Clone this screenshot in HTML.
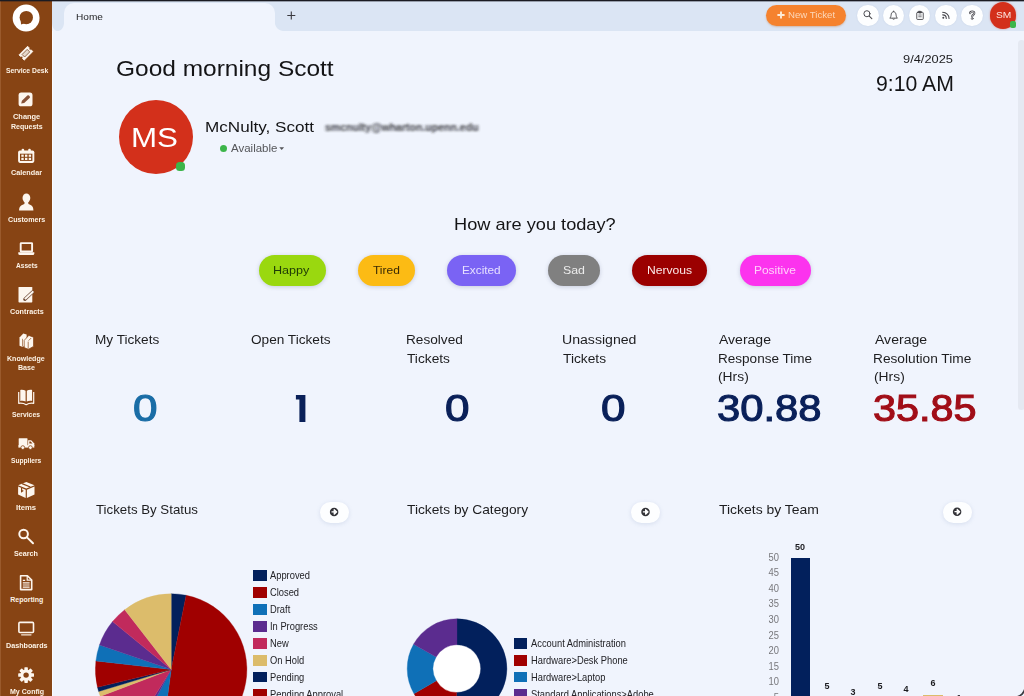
<!DOCTYPE html>
<html><head><meta charset="utf-8"><title>Home</title>
<style>
html,body{margin:0;padding:0;}
body{width:1024px;height:696px;overflow:hidden;position:relative;background:#f0f4fd;font-family:"Liberation Sans",sans-serif;}
.abs{position:absolute;}
#topline{left:0;top:0;width:1024px;height:1px;background:#1b1b22;z-index:50;box-shadow:0 1px 0 rgba(27,27,34,.35);}
#sidebar{left:0;top:0;width:52.3px;height:696px;background:#874414;}
#tabbar{left:52px;top:0;width:972px;height:31px;background:#dbe5f4;}
#tab{left:64.2px;top:2.6px;width:210.6px;height:28.4px;background:#f0f4fd;border-radius:10px 10px 0 0;}
.inv{width:10px;height:10px;top:21px;}
.pill{position:absolute;height:31px;top:254.5px;border-radius:16px;box-shadow:0 1px 4px rgba(60,70,110,.22);}
.cbtn{position:absolute;width:21.6px;height:21.6px;border-radius:50%;background:#fdfeff;top:4.6px;box-shadow:0 0 1.5px rgba(150,170,200,.3);}
.more{position:absolute;width:29.6px;height:21px;border-radius:10.5px;background:#fdfeff;top:502.3px;box-shadow:0 1px 4px rgba(120,140,180,.22);}
.lg{position:absolute;font-size:10.1px;color:#232327;white-space:pre;line-height:12px;transform:scaleX(0.925);transform-origin:0 50%;}
.sq{position:absolute;width:13.3px;height:10.5px;}
.ax{position:absolute;font-size:10.3px;color:#77777b;width:20px;text-align:right;line-height:12px;transform:scaleX(0.91);transform-origin:100% 50%;}
.bl{position:absolute;font-size:9.3px;font-weight:700;color:#1c1c20;width:20px;text-align:center;line-height:12px;transform:scaleX(0.97);transform-origin:50% 50%;}

.t{position:absolute;white-space:pre;line-height:1;font-family:"Liberation Sans",sans-serif;transform-origin:0 50%;}
</style></head>
<body>
<svg width="0" height="0" style="position:absolute"><filter id="hb" x="-5%" y="-50%" width="110%" height="200%"><feGaussianBlur stdDeviation="1.7 0.95"/></filter></svg>
<div id="sidebar" class="abs"></div>
<div id="tabbar" class="abs"></div>
<div id="tab" class="abs"></div>
<!-- inverse tab corners -->
<svg class="abs" style="left:52px;top:0" width="260" height="31" viewBox="52 0 260 31">
  <path d="M52 31.2 L52 23 C52.4 28.5 55 31 58 31.2 Z" fill="#f0f4fd"/>
  <path d="M57 31.2 C61.5 31 64.2 27.5 64.2 21 L64.4 31.2 Z" fill="#f0f4fd"/>
  <path d="M274.6 20 C274.6 27 278 31 285 31.2 L274.6 31.2 Z" fill="#f0f4fd"/>
  <path d="M287.3 15.5 H295.3 M291.3 11.5 V19.5" stroke="#3a3a40" stroke-width="1.1" fill="none"/>
</svg>
<div class="abs" style="left:52.2px;top:31px;width:0.8px;height:665px;background:#fbfcff;"></div>
<div id="topline" class="abs"></div>

<!-- SIDEBAR ICONS -->
<svg class="abs" style="left:0;top:0" width="52" height="696" viewBox="0 0 52 696">
 <rect x="0" y="0" width="1" height="696" fill="#9a5a2c"/>
 <g fill="#fdf6ee" stroke="none">
  <!-- logo -->
  <circle cx="26.1" cy="18" r="13.45" fill="#ffffff"/>
  <circle cx="26.3" cy="17.6" r="6.7" fill="#874414"/>
  <path d="M20.6 20.6 L21.1 24.6 L24.6 23.2 Z" fill="#874414"/>
  <!-- service desk ticket -->
  <g transform="translate(25.9 53.2) rotate(-45)">
    <path d="M-6.1 -3.7 H6.1 V-1.3 A1.3 1.3 0 0 0 6.1 1.3 V3.7 H-6.1 V1.3 A1.3 1.3 0 0 0 -6.1 -1.3 Z" stroke="#fdf6ee" stroke-width="0.8" stroke-linejoin="round"/>
    <rect x="-3.6" y="-1.8" width="7.2" height="3.6" fill="#e6d9cc" stroke="#7a4a2a" stroke-width="0.75"/>
  </g>
  <!-- change requests -->
  <rect x="18.6" y="92.6" width="13.9" height="13.7" rx="2.6"/>
  <path d="M21.2 103.6 L21.9 100.7 L27.3 95.6 A1.2 1.2 0 0 1 29 95.6 L29.6 96.2 A1.2 1.2 0 0 1 29.6 97.9 L24.2 103 Z" fill="#875237"/>
  <!-- calendar -->
  <rect x="18.1" y="150.4" width="16.2" height="12.5" rx="1.8"/>
  <rect x="21.6" y="148.8" width="2.6" height="3" rx="1.2"/><rect x="28.2" y="148.8" width="2.6" height="3" rx="1.2"/>
  <rect x="20" y="153.7" width="12.4" height="7.2" fill="#874414"/>
  <g>
   <rect x="21.3" y="154.6" width="2.4" height="2.2"/><rect x="25" y="154.6" width="2.4" height="2.2"/><rect x="28.7" y="154.6" width="2.4" height="2.2"/>
   <rect x="21.3" y="157.8" width="2.4" height="2.2"/><rect x="25" y="157.8" width="2.4" height="2.2"/><rect x="28.7" y="157.8" width="2.4" height="2.2"/>
  </g>
  <!-- customers -->
  <ellipse cx="26.4" cy="198.1" rx="3.9" ry="4.6"/>
  <path d="M19.1 210.4 C19 206.6 21 205 24.4 203.9 L24.6 201.5 L28.2 201.5 L28.4 203.9 C31.8 205 33.5 206.6 33.4 210.4 Z"/>
  <!-- assets laptop -->
  <rect x="20.7" y="243.1" width="11.4" height="8.4" rx="0.5" fill="none" stroke="#fdf6ee" stroke-width="1.9"/>
  <path d="M18.3 252.3 H34.3 V253.4 A1.5 1.5 0 0 1 32.8 254.9 H19.8 A1.5 1.5 0 0 1 18.3 253.4 Z"/>
  <!-- contracts -->
  <rect x="18.5" y="286.9" width="13.8" height="15.5" rx="0.7"/>
  <path d="M24.9 299.2 L32.6 292" stroke="#6f4a36" stroke-width="3.3" stroke-linecap="round" fill="none"/>
  <path d="M25 299.1 L32.7 291.9" stroke="#fdf6ee" stroke-width="2" stroke-linecap="round" fill="none"/>
  <path d="M23.6 300.6 L24 298.3 L25.9 300 Z" fill="#6f4a36"/>
  <!-- knowledge base books -->
  <path d="M19.5 337.6 L23.3 333.4 L26.6 334.6 L26.6 344.6 L22.7 347 L19.5 345.8 Z"/>
  <path d="M24.2 340.4 L28.8 335.4 L33.5 337.2 L33.5 346.4 L28.4 349.3 L24.2 347.6 Z" stroke="#874414" stroke-width="0.7"/>
  <path d="M22.5 338.8 V346.6" stroke="#874414" stroke-width="0.6" fill="none"/>
  <path d="M28.2 341.6 V348.8 M28.6 340.6 L31.2 338" stroke="#874414" stroke-width="0.7" fill="none"/>
  <!-- services open book -->
  <path d="M20.3 389.9 C22.3 389.6 24.3 389.9 25.6 390.8 L25.6 401.6 C24.3 400.9 22.3 400.7 20.3 401 Z"/>
  <path d="M32.1 389.9 C30.1 389.6 28.1 389.9 26.8 390.8 L26.8 401.6 C28.1 400.9 30.1 400.7 32.1 401 Z"/>
  <path d="M18.7 392 V403.3 C21.5 403 24 403.3 26.2 404.7 C28.4 403.3 30.9 403 33.7 403.3 V392" fill="none" stroke="#fdf6ee" stroke-width="1.2" stroke-linejoin="round"/>
  <!-- suppliers truck -->
  <rect x="18.7" y="438.2" width="8.8" height="8.2" rx="0.6"/>
  <path d="M18.4 445.2 H34.3 V447.6 H18.4 Z"/>
  <path d="M28.1 440.3 H31.2 L34.3 443.6 V446 H28.1 Z"/>
  <path d="M29.3 441.5 H30.7 L32.5 443.5 H29.3 Z" fill="#874414"/>
  <circle cx="22.8" cy="447.6" r="1.9" stroke="#874414" stroke-width="0.8"/>
  <circle cx="30.4" cy="447.6" r="1.9" stroke="#874414" stroke-width="0.8"/>
  <!-- items box -->
  <path d="M26.3 481.9 L34.5 485.2 L26.3 488.6 L18.1 485.2 Z"/>
  <path d="M18.1 486.5 L25.7 489.7 L25.7 497.9 L18.1 494.6 Z"/>
  <path d="M26.9 489.7 L34.5 486.5 L34.5 494.6 L26.9 497.9 Z"/>
  <path d="M22.1 483.6 L30.3 487 M21.6 488 L21.6 491.6 L23.3 490.4" stroke="#874414" stroke-width="1.2" fill="none"/>
  <!-- search -->
  <circle cx="23.6" cy="534" r="4.3" fill="none" stroke="#fdf6ee" stroke-width="2"/>
  <path d="M27 537.4 L33 543.2" stroke="#fdf6ee" stroke-width="2" stroke-linecap="round"/>
  <!-- reporting -->
  <g fill="none" stroke="#fdf6ee">
   <path d="M20.6 575.7 H27.4 L31.7 580 V589.6 H20.6 Z" stroke-width="1.6" stroke-linejoin="round"/>
   <path d="M27.2 575.9 V580.2 H31.5" stroke-width="1.2"/>
   <path d="M22.8 580.4 H25.2 M22.8 582.8 H29.6 M22.8 585 H29.6 M22.8 587.2 H29.6" stroke-width="1.2"/>
  </g>
  <!-- dashboards -->
  <rect x="18.9" y="622.4" width="14.6" height="10.1" rx="1" fill="none" stroke="#fdf6ee" stroke-width="1.6"/>
  <path d="M21.6 634.8 H31" stroke="#f3e3d3" stroke-width="1.3" stroke-linecap="round"/>
  <!-- gear -->
  <g transform="translate(26.1 675.1)">
   <circle r="5.7"/>
   <g>
    <rect x="-1.75" y="-7.9" width="3.5" height="15.8" rx="0.7"/>
    <rect x="-1.75" y="-7.9" width="3.5" height="15.8" rx="0.7" transform="rotate(45)"/>
    <rect x="-1.75" y="-7.9" width="3.5" height="15.8" rx="0.7" transform="rotate(90)"/>
    <rect x="-1.75" y="-7.9" width="3.5" height="15.8" rx="0.7" transform="rotate(135)"/>
   </g>
   <circle r="2.7" fill="#874414"/>
  </g>
 </g>
</svg>

<!-- TOP BAR BUTTONS -->
<div class="abs" style="left:765.7px;top:4.6px;width:80.6px;height:21.2px;border-radius:10.6px;background:#f5822e;box-shadow:0 1px 2px rgba(190,100,30,.35);"></div>
<svg class="abs" style="left:776px;top:10px" width="10" height="10" viewBox="0 0 10 10"><path d="M1.4 5 H8.6 M5 1.4 V8.6" stroke="#fdebd8" stroke-width="1.9" fill="none"/></svg>
<div class="cbtn" style="left:857px"></div>
<div class="cbtn" style="left:882.8px"></div>
<div class="cbtn" style="left:908.9px"></div>
<div class="cbtn" style="left:935.2px"></div>
<div class="cbtn" style="left:961.2px"></div>
<svg class="abs" style="left:856px;top:3px" width="128" height="25" viewBox="856 3 128 25" fill="none" stroke="#47474d" stroke-linecap="round" stroke-linejoin="round">
  <!-- search -->
  <g transform="translate(867.6 15.2) scale(0.92) translate(-867.6 -15.2)">
  <circle cx="866.9" cy="13.6" r="3.3" stroke-width="1.05"/>
  <path d="M869.4 16.1 L872.2 18.9" stroke-width="1.15"/>
  </g>
  <!-- bell -->
  <g transform="translate(893.6 15.2) scale(0.9) translate(-893.6 -15.2)">
  <path d="M889.7 18.2 C890.8 17.3 890.7 15.6 891 14 C891.3 12.3 892.3 11.4 893.6 11.4 C894.9 11.4 895.9 12.3 896.2 14 C896.5 15.6 896.4 17.3 897.5 18.2 Z" stroke-width="1"/>
  <path d="M892.7 19.5 C893.1 20 894.1 20 894.5 19.5" stroke-width="0.9"/>
  <path d="M893.6 11.2 V10.6" stroke-width="1"/>
  </g>
  <!-- clipboard -->
  <g transform="translate(920 15.4) scale(0.9) translate(-920 -15.4)">
  <rect x="916.4" y="12" width="7.2" height="7.9" rx="0.8" stroke-width="1"/>
  <rect x="918.4" y="10.9" width="3.2" height="1.9" rx="0.4" stroke-width="0.8" fill="#47474d"/>
  <path d="M918.6 15 H921.4 M918.6 16.9 H921.4" stroke-width="0.8"/>
  </g>
  <!-- rss -->
  <g transform="translate(946 15.4) scale(0.9) translate(-946 -15.4)">
  <circle cx="943" cy="18" r="1.1" fill="#47474d" stroke="none"/>
  <path d="M942.3 14.8 C944.6 14.8 946.3 16.5 946.3 18.8" stroke-width="1.15"/>
  <path d="M942.3 11.9 C946.3 11.9 949.4 15 949.4 18.8" stroke-width="1.15"/>
  </g>
  <!-- help -->
  <g transform="translate(972.2 15.4) scale(0.9) translate(-972.2 -15.4)">
  <path d="M969.9 13.1 C969.9 10.5 974.5 10.5 974.5 13.1 C974.5 14.9 972.2 14.8 972.2 16.5" stroke-width="2.3"/>
  <path d="M969.9 13.1 C969.9 10.5 974.5 10.5 974.5 13.1 C974.5 14.9 972.2 14.8 972.2 16.5" stroke="#fdfeff" stroke-width="0.8"/>
  <circle cx="972.2" cy="18.9" r="1.05" stroke-width="0.8"/>
</g>
  </svg>
<div class="abs" style="left:990.1px;top:2.3px;width:26.4px;height:26.4px;border-radius:50%;background:#d3301b;box-shadow:0 0 2px rgba(211,48,27,.5);"></div>
<div class="abs" style="left:1009.6px;top:21.4px;width:6.2px;height:6.2px;border-radius:2px;background:#3cb54a;"></div>

<div class="abs" style="left:1017.8px;top:40px;width:7px;height:370px;border-radius:3.5px;background:#e5e9f2;"></div>
<!-- PROFILE -->
<div class="abs" style="left:118.5px;top:99.8px;width:74.6px;height:74.6px;border-radius:50%;background:#d3301b;"></div>
<div class="abs" style="left:175.8px;top:161.8px;width:9.4px;height:9.4px;border-radius:38%;background:#3cb54a;"></div>
<div class="abs" style="left:219.6px;top:144.9px;width:7.6px;height:7.6px;border-radius:50%;background:#3cb54a;"></div>
<svg class="abs" style="left:278.6px;top:147px" width="6" height="4" viewBox="0 0 6 4"><path d="M0.3 0.3 H5.1 L2.7 3.1 Z" fill="#55565a"/></svg>

<!-- MOOD PILLS -->
<div class="pill" style="left:258.6px;width:67px;background:#9ad80f"></div>
<div class="pill" style="left:357.6px;width:57.2px;background:#fcbb14"></div>
<div class="pill" style="left:447.4px;width:68.2px;background:#7a63f4"></div>
<div class="pill" style="left:548.3px;width:51.8px;background:#808080"></div>
<div class="pill" style="left:632.1px;width:75.1px;background:#9b0000"></div>
<div class="pill" style="left:739.5px;width:71.7px;background:#fc33ee"></div>

<!-- CHART "more" BUTTONS -->
<div class="more" style="left:319.6px"></div>
<div class="more" style="left:630.9px"></div>
<div class="more" style="left:942.5px"></div>
<svg class="abs" style="left:0;top:500px" width="1024" height="26" viewBox="0 500 1024 26">
 <g id="arr">
  <circle cx="334.1" cy="511.9" r="4.25" fill="#333338"/>
  <path d="M331.5 511.9 H334.6 M334.2 509.6 L336.7 511.9 L334.2 514.2 Z" stroke="#fff" stroke-width="1.2" fill="#fff" stroke-linejoin="round"/>
 </g>
 <g transform="translate(311.4 0)">
  <circle cx="334.1" cy="511.9" r="4.25" fill="#333338"/>
  <path d="M331.5 511.9 H334.6 M334.2 509.6 L336.7 511.9 L334.2 514.2 Z" stroke="#fff" stroke-width="1.2" fill="#fff" stroke-linejoin="round"/>
 </g>
 <g transform="translate(623 -0.2)">
  <circle cx="334.1" cy="511.9" r="4.25" fill="#333338"/>
  <path d="M331.5 511.9 H334.6 M334.2 509.6 L336.7 511.9 L334.2 514.2 Z" stroke="#fff" stroke-width="1.2" fill="#fff" stroke-linejoin="round"/>
 </g>
</svg>
<svg class="abs" style="left:290px;top:390px" width="24" height="38" viewBox="290 390 24 38"><path d="M295.9 395 H305.4 V422 H299.4 V399.4 H295.9 Z" fill="#0a2059"/></svg>
<svg class="abs" style="left:80px;top:580px" width="200" height="116" viewBox="80 580 200 116">
<path d="M171.20 669.60 L171.20 593.80 A75.8 75.8 0 0 1 186.18 595.30 Z" fill="#02205c" stroke="#02205c" stroke-width="0.35"/>
<path d="M171.20 669.60 L186.18 595.30 A75.8 75.8 0 0 1 161.17 744.73 Z" fill="#a00000" stroke="#a00000" stroke-width="0.35"/>
<path d="M171.20 669.60 L161.17 744.73 A75.8 75.8 0 0 1 135.61 736.53 Z" fill="#0f70b7" stroke="#0f70b7" stroke-width="0.35"/>
<path d="M171.20 669.60 L135.61 736.53 A75.8 75.8 0 0 1 131.03 733.88 Z" fill="#5b2c8f" stroke="#5b2c8f" stroke-width="0.35"/>
<path d="M171.20 669.60 L131.03 733.88 A75.8 75.8 0 0 1 100.29 696.39 Z" fill="#c12a5c" stroke="#c12a5c" stroke-width="0.35"/>
<path d="M171.20 669.60 L100.29 696.39 A75.8 75.8 0 0 1 98.64 691.51 Z" fill="#dcbc6b" stroke="#dcbc6b" stroke-width="0.35"/>
<path d="M171.20 669.60 L98.64 691.51 A75.8 75.8 0 0 1 97.49 687.30 Z" fill="#02205c" stroke="#02205c" stroke-width="0.35"/>
<path d="M171.20 669.60 L97.49 687.30 A75.8 75.8 0 0 1 95.90 660.89 Z" fill="#a00000" stroke="#a00000" stroke-width="0.35"/>
<path d="M171.20 669.60 L95.90 660.89 A75.8 75.8 0 0 1 99.53 644.92 Z" fill="#0f70b7" stroke="#0f70b7" stroke-width="0.35"/>
<path d="M171.20 669.60 L99.53 644.92 A75.8 75.8 0 0 1 112.54 621.59 Z" fill="#5b2c8f" stroke="#5b2c8f" stroke-width="0.35"/>
<path d="M171.20 669.60 L112.54 621.59 A75.8 75.8 0 0 1 124.74 609.71 Z" fill="#c12a5c" stroke="#c12a5c" stroke-width="0.35"/>
<path d="M171.20 669.60 L124.74 609.71 A75.8 75.8 0 0 1 171.20 593.80 Z" fill="#dcbc6b" stroke="#dcbc6b" stroke-width="0.35"/>
</svg>
<div class="sq" style="left:253.3px;top:570.40px;background:#02205c"></div><div class="lg" style="left:270.2px;top:570px">Approved</div>
<div class="sq" style="left:253.3px;top:587.33px;background:#a00000"></div><div class="lg" style="left:270.2px;top:587px">Closed</div>
<div class="sq" style="left:253.3px;top:604.26px;background:#0f70b7"></div><div class="lg" style="left:270.2px;top:604px">Draft</div>
<div class="sq" style="left:253.3px;top:621.19px;background:#5b2c8f"></div><div class="lg" style="left:270.2px;top:621px">In Progress</div>
<div class="sq" style="left:253.3px;top:638.12px;background:#c12a5c"></div><div class="lg" style="left:270.2px;top:638px">New</div>
<div class="sq" style="left:253.3px;top:655.05px;background:#dcbc6b"></div><div class="lg" style="left:270.2px;top:655px">On Hold</div>
<div class="sq" style="left:253.3px;top:671.98px;background:#02205c"></div><div class="lg" style="left:270.2px;top:672px">Pending</div>
<div class="sq" style="left:253.3px;top:688.91px;background:#a00000"></div><div class="lg" style="left:270.2px;top:689px">Pending Approval</div>
<svg class="abs" style="left:400px;top:610px" width="120" height="86" viewBox="400 610 120 86">
<circle cx="457.0" cy="668.6" r="24.4" fill="#ffffff"/>
<path d="M457.00 618.80 A49.8 49.8 0 1 1 456.13 718.39 L456.58 692.50 A23.9 23.9 0 1 0 457.00 644.70 Z" fill="#02205c" stroke="#02205c" stroke-width="0.35"/>
<path d="M456.13 718.39 A49.8 49.8 0 0 1 414.00 693.73 L436.36 680.66 A23.9 23.9 0 0 0 456.58 692.50 Z" fill="#a00000" stroke="#a00000" stroke-width="0.35"/>
<path d="M414.00 693.73 A49.8 49.8 0 0 1 413.53 644.30 L436.14 656.94 A23.9 23.9 0 0 0 436.36 680.66 Z" fill="#0f70b7" stroke="#0f70b7" stroke-width="0.35"/>
<path d="M413.53 644.30 A49.8 49.8 0 0 1 457.00 618.80 L457.00 644.70 A23.9 23.9 0 0 0 436.14 656.94 Z" fill="#5b2c8f" stroke="#5b2c8f" stroke-width="0.35"/>
</svg>
<div class="sq" style="left:513.9px;top:638.10px;background:#02205c"></div><div class="lg" style="left:530.9px;top:638px">Account Administration</div>
<div class="sq" style="left:513.9px;top:655.03px;background:#a00000"></div><div class="lg" style="left:530.9px;top:655px">Hardware&gt;Desk Phone</div>
<div class="sq" style="left:513.9px;top:671.96px;background:#0f70b7"></div><div class="lg" style="left:530.9px;top:672px">Hardware&gt;Laptop</div>
<div class="sq" style="left:513.9px;top:688.89px;background:#5b2c8f"></div><div class="lg" style="left:530.9px;top:689px">Standard Applications&gt;Adobe</div>
<div class="ax" style="left:759.3px;top:552px">50</div>
<div class="ax" style="left:759.3px;top:567px">45</div>
<div class="ax" style="left:759.3px;top:583px">40</div>
<div class="ax" style="left:759.3px;top:598px">35</div>
<div class="ax" style="left:759.3px;top:614px">30</div>
<div class="ax" style="left:759.3px;top:630px">25</div>
<div class="ax" style="left:759.3px;top:645px">20</div>
<div class="ax" style="left:759.3px;top:661px">15</div>
<div class="ax" style="left:759.3px;top:676px">10</div>
<div class="ax" style="left:759.3px;top:692px">5</div>
<div class="abs" style="left:791px;top:557.9px;width:18.6px;height:140px;background:#02205c"></div>
<div class="abs" style="left:923.1px;top:694.6px;width:19.6px;height:4px;background:#dcbc6b"></div>
<div class="bl" style="left:790.0px;top:541px">50</div>
<div class="bl" style="left:816.6px;top:680px">5</div>
<div class="bl" style="left:842.9px;top:686px">3</div>
<div class="bl" style="left:869.7px;top:680px">5</div>
<div class="bl" style="left:896.0px;top:683px">4</div>
<div class="bl" style="left:922.6px;top:677px">6</div>
<div class="bl" style="left:949.3px;top:692px">1</div>
<svg class="abs" style="left:1004px;top:676px" width="20" height="20" viewBox="1004 676 20 20"><path d="M1016.5 697 C1021 696 1024 692.5 1025 688.5" stroke="#3a3a40" stroke-width="1.6" fill="none"/></svg>

<!-- text -->
<span class="t" style="left:5.56px;top:67.00px;font-size:7.00px;font-weight:700;color:#fdf3e6;transform:scaleX(0.9688);">Service Desk</span>
<span class="t" style="left:12.73px;top:113.00px;font-size:7.00px;font-weight:700;color:#fdf3e6;transform:scaleX(1.0614);">Change</span>
<span class="t" style="left:10.50px;top:123.00px;font-size:7.00px;font-weight:700;color:#fdf3e6;transform:scaleX(1.0016);">Requests</span>
<span class="t" style="left:10.74px;top:169.00px;font-size:7.00px;font-weight:700;color:#fdf3e6;transform:scaleX(1.0353);">Calendar</span>
<span class="t" style="left:7.85px;top:216.00px;font-size:7.00px;font-weight:700;color:#fdf3e6;transform:scaleX(1.0167);">Customers</span>
<span class="t" style="left:15.77px;top:262.00px;font-size:7.00px;font-weight:700;color:#fdf3e6;transform:scaleX(0.9378);">Assets</span>
<span class="t" style="left:9.74px;top:308.00px;font-size:7.00px;font-weight:700;color:#fdf3e6;transform:scaleX(1.0295);">Contracts</span>
<span class="t" style="left:7.40px;top:355.00px;font-size:7.00px;font-weight:700;color:#fdf3e6;transform:scaleX(1.0082);">Knowledge</span>
<span class="t" style="left:17.79px;top:364.00px;font-size:7.00px;font-weight:700;color:#fdf3e6;transform:scaleX(1.0125);">Base</span>
<span class="t" style="left:12.46px;top:411.00px;font-size:7.00px;font-weight:700;color:#fdf3e6;transform:scaleX(0.9699);">Services</span>
<span class="t" style="left:11.46px;top:457.00px;font-size:7.00px;font-weight:700;color:#fdf3e6;transform:scaleX(0.9492);">Suppliers</span>
<span class="t" style="left:16.25px;top:504.00px;font-size:7.00px;font-weight:700;color:#fdf3e6;transform:scaleX(1.1029);">Items</span>
<span class="t" style="left:14.44px;top:550.00px;font-size:7.00px;font-weight:700;color:#fdf3e6;transform:scaleX(1.0286);">Search</span>
<span class="t" style="left:10.20px;top:596.00px;font-size:7.00px;font-weight:700;color:#fdf3e6;transform:scaleX(1.0000);">Reporting</span>
<span class="t" style="left:5.59px;top:642.00px;font-size:7.00px;font-weight:700;color:#fdf3e6;transform:scaleX(1.0264);">Dashboards</span>
<span class="t" style="left:9.50px;top:688.00px;font-size:7.00px;font-weight:700;color:#fdf3e6;transform:scaleX(1.0061);">My Config</span>
<span class="t" style="left:76.07px;top:13.00px;font-size:9.11px;font-weight:400;color:#1d1d1f;transform:scaleX(1.1097);">Home</span>
<span class="t" style="left:787.67px;top:11.00px;font-size:8.66px;font-weight:400;color:#fcd8bb;transform:scaleX(1.1133);">New Ticket</span>
<span class="t" style="left:995.88px;top:10.00px;font-size:9.80px;font-weight:400;color:#fde4df;transform:scaleX(1.0444);">SM</span>
<span class="t" style="left:116.34px;top:58.00px;font-size:21.20px;font-weight:400;color:#141416;transform:scaleX(1.1551);">Good morning Scott</span>
<span class="t" style="left:903.33px;top:54.00px;font-size:11.20px;font-weight:400;color:#1d1d1f;transform:scaleX(1.1459);">9/4/2025</span>
<span class="t" style="left:876.00px;top:74.00px;font-size:21.30px;font-weight:400;color:#141416;transform:scaleX(0.9960);">9:10 AM</span>
<span class="t" style="left:130.99px;top:124.00px;font-size:28.06px;font-weight:400;color:#fff;transform:scaleX(1.1169);">MS</span>
<span class="t" style="left:204.81px;top:119.00px;font-size:15.38px;font-weight:400;color:#141416;transform:scaleX(1.1130);">McNulty, Scott</span>
<span class="t" style="left:325.48px;top:123.00px;font-size:10.22px;font-weight:700;color:#26262c;transform:scaleX(1.0304);filter:url(#hb);opacity:.9;">smcnulty@wharton.upenn.edu</span>
<span class="t" style="left:230.80px;top:144.00px;font-size:10.36px;font-weight:400;color:#55565a;transform:scaleX(1.1084);">Available</span>
<span class="t" style="left:453.81px;top:216.00px;font-size:16.40px;font-weight:400;color:#141416;transform:scaleX(1.1090);">How are you today?</span>
<span class="t" style="left:273.03px;top:265.00px;font-size:10.80px;font-weight:400;color:#1e3a06;transform:scaleX(1.1669);">Happy</span>
<span class="t" style="left:373.12px;top:265.00px;font-size:10.80px;font-weight:400;color:#3a2a05;transform:scaleX(1.1097);">Tired</span>
<span class="t" style="left:462.11px;top:265.00px;font-size:10.80px;font-weight:400;color:#e6e0ff;transform:scaleX(1.0904);">Excited</span>
<span class="t" style="left:563.43px;top:265.00px;font-size:10.80px;font-weight:400;color:#ececec;transform:scaleX(1.1444);">Sad</span>
<span class="t" style="left:646.68px;top:265.00px;font-size:10.80px;font-weight:400;color:#fbe9e9;transform:scaleX(1.1226);">Nervous</span>
<span class="t" style="left:754.29px;top:265.00px;font-size:10.80px;font-weight:400;color:#ffd0fa;transform:scaleX(1.1062);">Positive</span>
<span class="t" style="left:94.69px;top:334.00px;font-size:12.30px;font-weight:400;color:#1d1d1f;transform:scaleX(1.1066);">My Tickets</span>
<span class="t" style="left:251.05px;top:334.00px;font-size:12.30px;font-weight:400;color:#1d1d1f;transform:scaleX(1.1081);">Open Tickets</span>
<span class="t" style="left:406.29px;top:334.00px;font-size:12.30px;font-weight:400;color:#1d1d1f;transform:scaleX(1.1091);">Resolved</span>
<span class="t" style="left:407.12px;top:353.00px;font-size:12.30px;font-weight:400;color:#1d1d1f;transform:scaleX(1.1152);">Tickets</span>
<span class="t" style="left:561.85px;top:334.00px;font-size:12.30px;font-weight:400;color:#1d1d1f;transform:scaleX(1.1462);">Unassigned</span>
<span class="t" style="left:562.72px;top:353.00px;font-size:12.30px;font-weight:400;color:#1d1d1f;transform:scaleX(1.1179);">Tickets</span>
<span class="t" style="left:718.80px;top:334.00px;font-size:12.30px;font-weight:400;color:#1d1d1f;transform:scaleX(1.1400);">Average</span>
<span class="t" style="left:717.70px;top:353.00px;font-size:12.30px;font-weight:400;color:#1d1d1f;transform:scaleX(1.1012);">Response Time</span>
<span class="t" style="left:718.46px;top:371.00px;font-size:12.30px;font-weight:400;color:#1d1d1f;transform:scaleX(1.1262);">(Hrs)</span>
<span class="t" style="left:874.60px;top:334.00px;font-size:12.30px;font-weight:400;color:#1d1d1f;transform:scaleX(1.1422);">Average</span>
<span class="t" style="left:873.49px;top:353.00px;font-size:12.30px;font-weight:400;color:#1d1d1f;transform:scaleX(1.1145);">Resolution Time</span>
<span class="t" style="left:874.26px;top:371.00px;font-size:12.30px;font-weight:400;color:#1d1d1f;transform:scaleX(1.1262);">(Hrs)</span>
<span class="t" style="left:133.40px;top:390.00px;font-size:37.00px;font-weight:400;color:#1a6da6;transform:scaleX(1.1900);-webkit-text-stroke:1.1px #1a6da6;">0</span>
<span class="t" style="left:445.15px;top:390.00px;font-size:37.00px;font-weight:400;color:#0a2059;transform:scaleX(1.1900);-webkit-text-stroke:1.1px #0a2059;">0</span>
<span class="t" style="left:601.20px;top:390.00px;font-size:37.00px;font-weight:400;color:#0a2059;transform:scaleX(1.1900);-webkit-text-stroke:1.1px #0a2059;">0</span>
<span class="t" style="left:717.11px;top:390.00px;font-size:37.00px;font-weight:400;color:#0a2059;transform:scaleX(1.1285);-webkit-text-stroke:1.1px #0a2059;">30.88</span>
<span class="t" style="left:873.12px;top:390.00px;font-size:37.00px;font-weight:400;color:#a10e18;transform:scaleX(1.1173);-webkit-text-stroke:1.1px #a10e18;">35.85</span>
<span class="t" style="left:95.73px;top:504.00px;font-size:12.20px;font-weight:400;color:#1d1d1f;transform:scaleX(1.0882);">Tickets By Status</span>
<span class="t" style="left:407.32px;top:504.00px;font-size:12.20px;font-weight:400;color:#1d1d1f;transform:scaleX(1.1290);">Tickets by Category</span>
<span class="t" style="left:718.91px;top:504.00px;font-size:12.20px;font-weight:400;color:#1d1d1f;transform:scaleX(1.1432);">Tickets by Team</span>
</body></html>
